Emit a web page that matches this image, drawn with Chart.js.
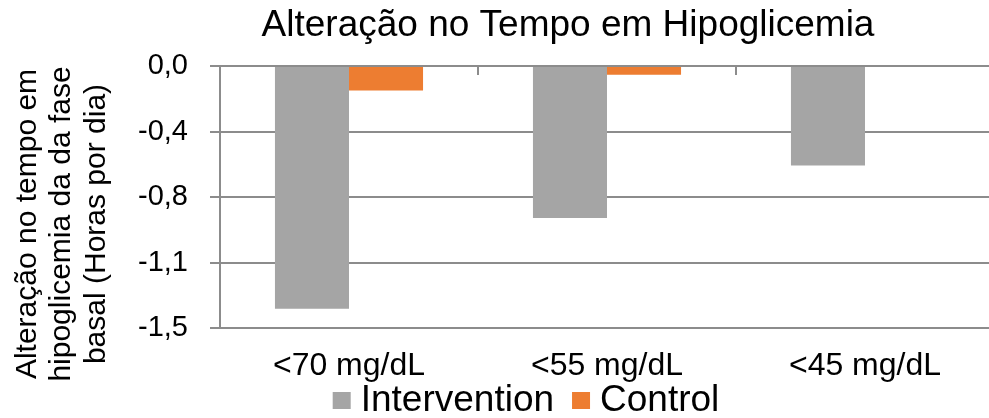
<!DOCTYPE html>
<html>
<head>
<meta charset="utf-8">
<script src="https://cdn.jsdelivr.net/npm/chart.js@4.4.1/dist/chart.umd.min.js"></script>
<style>
  html, body { margin: 0; padding: 0; background: #fff; overflow: hidden; }
  canvas { display: block; }
</style>
</head>
<body>
<canvas id="chart" width="996" height="418"></canvas>
<script>
// dati
const categories = ['<70 mg/dL', '<55 mg/dL', '<45 mg/dL'];
const intervention = [-1.39, -0.87, -0.57];
const control = [-0.14, -0.05, -0.006];
const yTicks = [0, -0.375, -0.75, -1.125, -1.5];

const titolo = 'Alteração no Tempo em Hipoglicemia';
const titoloAsse = ['Alteração no tempo em', 'hipoglicemia da da fase', 'basal (Horas por dia)'];

const FONT = "'Liberation Sans', Arial, sans-serif";
const grigio = '#8c8c8c';

const ctx = document.querySelector('#chart');

// titolo, titolo asse y, legenda e tacche dell'asse x disegnati a mano
const testi = {
    id: 'testi',
    afterDraw(chart) {
        const c = chart.ctx;
        const x = chart.scales.x;
        const y = chart.scales.y;
        c.save();

        // tacche sull'asse orizzontale (a quota zero)
        const y0 = y.getPixelForValue(0);
        c.strokeStyle = grigio;
        c.lineWidth = 2;
        for (let i = 0; i < categories.length - 1; i++) {
            const xb = Math.round((x.getPixelForValue(i) + x.getPixelForValue(i + 1)) / 2);
            c.beginPath();
            c.moveTo(xb, y0);
            c.lineTo(xb, y0 + 9);
            c.stroke();
        }

        c.fillStyle = '#000';
        c.textBaseline = 'alphabetic';

        // titolo
        c.font = '37px ' + FONT;
        c.textAlign = 'center';
        c.fillText(titolo, 568, 36);

        // titolo asse y, ruotato
        c.font = '30px ' + FONT;
        const basi = [36, 70, 105];
        titoloAsse.forEach((riga, i) => {
            c.save();
            c.translate(basi[i], 224);
            c.rotate(-Math.PI / 2);
            c.fillText(riga, 0, 0);
            c.restore();
        });

        // legenda
        c.font = '37px ' + FONT;
        c.textAlign = 'left';
        const box = 18, gap = 10, spazio = 18;
        const ds = chart.data.datasets;
        let tot = 0;
        ds.forEach((d, i) => {
            tot += box + gap + c.measureText(d.label).width + (i < ds.length - 1 ? spazio : 0);
        });
        let cx = 526 - tot / 2;
        ds.forEach(d => {
            c.fillStyle = d.backgroundColor;
            c.fillRect(cx, 392, box, 17);
            cx += box + gap;
            c.fillStyle = '#000';
            c.fillText(d.label, cx, 411);
            cx += c.measureText(d.label).width + spazio;
        });

        c.restore();
    }
};

const chart = new Chart(ctx, {
    type: 'bar',
    data: {
        labels: categories,
        datasets: [
            { label: 'Intervention', data: intervention, backgroundColor: '#a5a5a5' },
            { label: 'Control', data: control, backgroundColor: '#ed7d31' }
        ]
    },
    options: {
        responsive: false,
        animation: false,
        layout: { padding: { top: 66, right: 2, left: 0, bottom: 0 } },
        datasets: {
            bar: { barPercentage: 1, categoryPercentage: 0.574 }
        },
        plugins: {
            legend: { display: false },
            title: { display: false },
            tooltip: { enabled: false }
        },
        scales: {
            x: {
                grid: { display: false, drawTicks: false },
                border: { display: false },
                ticks: {
                    color: '#000',
                    padding: 19,
                    font: { family: FONT, size: 32 }
                },
                afterFit(scale) { scale.height = 90; }
            },
            y: {
                min: -1.5,
                max: 0,
                afterBuildTicks(scale) {
                    scale.ticks = yTicks.map(v => ({ value: v }));
                },
                grid: { color: grigio, lineWidth: 2, tickLength: 10 },
                border: { display: true, color: grigio, width: 2 },
                ticks: {
                    color: '#000',
                    padding: 22,
                    font: { family: FONT, size: 29 },
                    callback: v => (v < 0 ? '-' : '') + Math.abs(v).toFixed(1).replace('.', ',')
                },
                afterFit(scale) { scale.width = 220; }
            }
        }
    },
    plugins: [testi]
});
</script>
</body>
</html>
